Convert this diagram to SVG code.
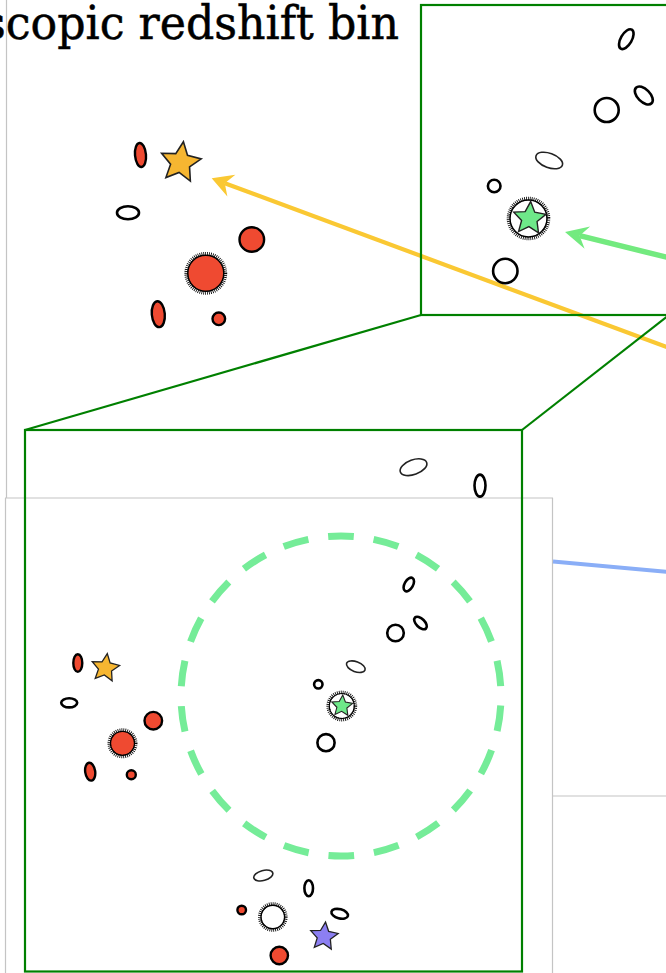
<svg xmlns="http://www.w3.org/2000/svg" xmlns:xlink="http://www.w3.org/1999/xlink" width="666" height="973" viewBox="0 0 666 973">
<style>
.gal{fill:#fff;stroke:#000;stroke-width:2.6}
.thin{fill:#fff;stroke:#222;stroke-width:1.6}
.red{fill:#ef4a31;stroke:#000;stroke-width:2.4}
.fz{fill:none;stroke:#000;stroke-width:3.6;stroke-dasharray:0.8 1.1}
.zoom{fill:none;stroke:#008000;stroke-width:2.2}
.panel{fill:none;stroke:#c4c4c4;stroke-width:1.2}
.title{font-family:"DejaVu Serif","Liberation Serif",serif;font-size:46px;fill:#000;stroke:#000;stroke-width:0.5}
</style>
<defs>
<polygon id="star" vector-effect="non-scaling-stroke" points="0,-1 0.282,-0.388 0.951,-0.309 0.456,0.148 0.588,0.809 0,0.48 -0.588,0.809 -0.456,0.148 -0.951,-0.309 -0.282,-0.388"/>
<marker id="ahY" markerUnits="userSpaceOnUse" viewBox="-24 -13 28 26" refX="-14" refY="0" markerWidth="28" markerHeight="26" orient="auto" overflow="visible">
<path d="M0,0 L-21,-11.5 L-14,0 L-21,11.5 Z" fill="#fac833"/>
</marker>
<marker id="ahG" markerUnits="userSpaceOnUse" viewBox="-26 -13 30 26" refX="-15" refY="0" markerWidth="30" markerHeight="26" orient="auto" overflow="visible">
<path d="M0,0 L-23,-11.5 L-15,0 L-23,11.5 Z" fill="#73ea7f"/>
</marker>
</defs>
<rect width="666" height="973" fill="#fff"/>
<g id="panel-frames">
<line class="panel" x1="6.5" y1="0" x2="6.5" y2="498" stroke="#dcdcdc"/>
<line class="panel" x1="5" y1="498" x2="553" y2="498"/>
<line class="panel" x1="5.5" y1="498" x2="5.5" y2="973" stroke="#d0d0d0"/>
<line class="panel" x1="552.5" y1="498" x2="552.5" y2="973" stroke="#eeeeee"/>
<line class="panel" x1="553" y1="796" x2="666" y2="796"/>
</g>
<g id="title">
<text class="title" x="-17" y="39" textLength="416" lengthAdjust="spacingAndGlyphs">scopic redshift bin</text>
</g>
<g id="connectors">
<line x1="553" y1="561.5" x2="680" y2="573" stroke="#8aaef7" stroke-width="4"/>
<path d="M680,352 L224.8,183.2" fill="none" stroke="#fac833" stroke-width="4.2" marker-end="url(#ahY)"/>
<path d="M680,260.5 L579.6,235.7" fill="none" stroke="#73ea7f" stroke-width="5.5" marker-end="url(#ahG)"/>
<rect class="zoom" x="421" y="5" width="250" height="310"/>
<line class="zoom" x1="421" y1="315" x2="25" y2="430"/>
<line class="zoom" x1="669" y1="315" x2="522" y2="430"/>
<rect class="zoom" x="25" y="430" width="497" height="541.5" stroke-width="2.5"/>
</g>
<g id="top-left-cluster">
<g id="tl-red-ellipse"><ellipse class="red" cx="140.5" cy="155" rx="5.5" ry="12" transform="rotate(-5 140.5 155)"/></g>
<g id="tl-orange-star"><use xlink:href="#star" href="#star" transform="translate(180.5,162.5) rotate(8) scale(21)" fill="#f6b631" stroke="#222" stroke-width="1.6"/></g>
<g id="tl-white-ellipse"><ellipse class="gal" cx="128" cy="212.8" rx="11" ry="6.5"/></g>
<g id="tl-red-circle"><circle class="red" cx="251.8" cy="239.5" r="12.3"/></g>
<g id="tl-red-big"><circle cx="205.8" cy="273.3" r="18" fill="#ef4a31" stroke="#000" stroke-width="1.5"/><circle class="fz" cx="205.8" cy="273.3" r="19.6"/></g>
<g id="tl-red-ellipse2"><ellipse class="red" cx="158.3" cy="314.2" rx="6.5" ry="13" transform="rotate(-5 158.3 314.2)"/></g>
<g id="tl-red-small"><circle class="red" cx="218.8" cy="318.8" r="6.3"/></g>
</g>
<g id="top-right-cluster">
<g id="tr-ellipse1"><ellipse class="gal" cx="626.3" cy="39.2" rx="11" ry="5.5" transform="rotate(-60 626.3 39.2)"/></g>
<g id="tr-circle1"><circle class="gal" cx="606.7" cy="110" r="12" stroke-width="3"/></g>
<g id="tr-ellipse2"><ellipse class="gal" cx="643.8" cy="95.5" rx="11" ry="6.3" transform="rotate(45 643.8 95.5)"/></g>
<g id="tr-ellipse3"><ellipse class="thin" cx="549.2" cy="160.5" rx="14" ry="7.2" transform="rotate(20 549.2 160.5)"/></g>
<g id="tr-circle2"><circle class="gal" cx="494.2" cy="186" r="6.3"/></g>
<g id="tr-green-star"><circle cx="528.5" cy="218.5" r="18.5" fill="#fff" stroke="#000" stroke-width="1.5"/><circle class="fz" cx="528.5" cy="218.5" r="20"/><use xlink:href="#star" href="#star" transform="translate(529.5,218.5) rotate(4) scale(17)" fill="#6ee889" stroke="#222" stroke-width="1.4"/></g>
<g id="tr-circle3"><circle class="gal" cx="505.3" cy="271" r="12.2" stroke-width="3"/></g>
</g>
<g id="bottom-box">
<g id="search-radius"><circle cx="341" cy="696" r="160" fill="none" stroke="#75ec98" stroke-width="7" stroke-dasharray="25.7 20" stroke-dashoffset="36.1"/></g>
<g id="b-ellipse-top1"><ellipse class="thin" cx="413.5" cy="467.2" rx="14" ry="7.3" transform="rotate(-20 413.5 467.2)" stroke="#333"/></g>
<g id="b-ellipse-top2"><ellipse class="gal" cx="480" cy="485.6" rx="5.5" ry="11" stroke-width="2.6"/></g>
<g id="bl-red-ellipse"><ellipse class="red" cx="77.8" cy="663" rx="4.5" ry="8.8" stroke-width="2"/></g>
<g id="bl-orange-star"><use xlink:href="#star" href="#star" transform="translate(105.3,668) rotate(8) scale(14.5)" fill="#f6b631" stroke="#222" stroke-width="1.3"/></g>
<g id="bl-white-ellipse"><ellipse class="gal" cx="69.2" cy="702.8" rx="8" ry="4.6" stroke-width="2.2"/></g>
<g id="bl-red-circle"><circle class="red" cx="153.3" cy="720.7" r="8.8" stroke-width="2.2"/></g>
<g id="bl-red-big"><circle cx="122.5" cy="743.3" r="12" fill="#ef4a31" stroke="#000" stroke-width="1.3"/><circle class="fz" cx="122.5" cy="743.3" r="13.2" stroke-width="2.6"/></g>
<g id="bl-red-ellipse2"><ellipse class="red" cx="90.2" cy="771.7" rx="5" ry="9" transform="rotate(-8 90.2 771.7)" stroke-width="2"/></g>
<g id="bl-red-small"><circle class="red" cx="131.3" cy="774.7" r="4.5" stroke-width="2"/></g>
<g id="bc-ellipse1"><ellipse class="gal" cx="408.8" cy="584.5" rx="7.5" ry="4.2" transform="rotate(-60 408.8 584.5)" stroke-width="2.2"/></g>
<g id="bc-ellipse2"><ellipse class="gal" cx="420.5" cy="623" rx="7.8" ry="4.3" transform="rotate(45 420.5 623)" stroke-width="2.2"/></g>
<g id="bc-circle1"><circle class="gal" cx="395.5" cy="633" r="8.3" stroke-width="2.4"/></g>
<g id="bc-ellipse3"><ellipse class="thin" cx="355.8" cy="666.7" rx="9.8" ry="5" transform="rotate(20 355.8 666.7)" stroke-width="1.4"/></g>
<g id="bc-circle2"><circle class="gal" cx="318.3" cy="684.3" r="4.2" stroke-width="2"/></g>
<g id="bc-green-star"><circle cx="341.8" cy="706" r="12.5" fill="#fff" stroke="#000" stroke-width="1.2"/><circle class="fz" cx="341.8" cy="706" r="13.6" stroke-width="2.6"/><use xlink:href="#star" href="#star" transform="translate(342,706) rotate(4) scale(11)" fill="#6ee889" stroke="#222" stroke-width="1.1"/></g>
<g id="bc-circle3"><circle class="gal" cx="326" cy="742.7" r="8.6" stroke-width="2.4"/></g>
<g id="bb-ellipse1"><ellipse class="thin" cx="263.3" cy="875.5" rx="9.8" ry="5" transform="rotate(-15 263.3 875.5)" stroke-width="1.4"/></g>
<g id="bb-ellipse2"><ellipse class="gal" cx="308.7" cy="888.3" rx="4.3" ry="8" stroke-width="2.2"/></g>
<g id="bb-red-small"><circle class="red" cx="241.7" cy="910" r="4.3" stroke-width="1.8"/></g>
<g id="bb-fuzzy-circle"><circle cx="272.8" cy="917" r="11.8" fill="#fff" stroke="#000" stroke-width="1.4"/><circle class="fz" cx="272.8" cy="917" r="13" stroke-width="2.8"/></g>
<g id="bb-ellipse3"><ellipse class="gal" cx="339.7" cy="913.8" rx="8.5" ry="4.6" transform="rotate(15 339.7 913.8)" stroke-width="2.2"/></g>
<g id="bb-purple-star"><use xlink:href="#star" href="#star" transform="translate(324,936.5) rotate(6) scale(14.5)" fill="#8c7ff2" stroke="#222" stroke-width="1.3"/></g>
<g id="bb-red-circle"><circle class="red" cx="279.3" cy="955.5" r="8.7" stroke-width="2.4"/></g>
</g>
</svg>
